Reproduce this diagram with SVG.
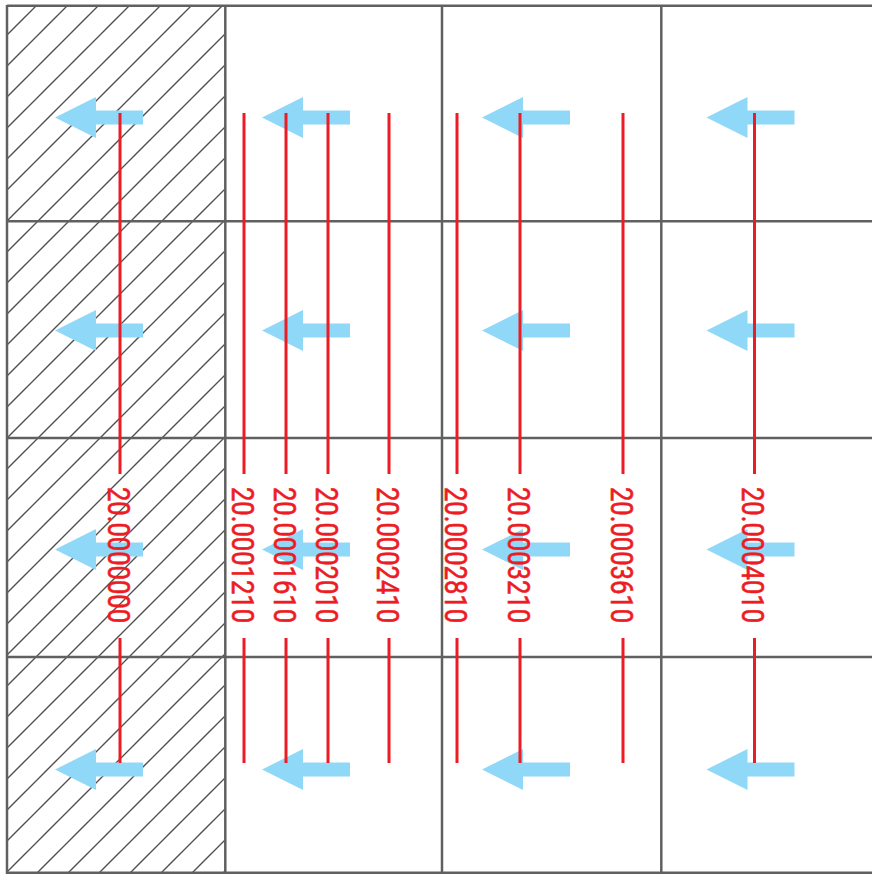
<svg xmlns="http://www.w3.org/2000/svg" width="872" height="874" viewBox="0 0 872 874">
<style>
.grid{stroke:#606060;stroke-width:2.5;fill:none}
.arrow{fill:#8fd8f7}
.red{stroke:#ed1c24;stroke-width:3;fill:none}
.lbl{fill:#ed1c24;stroke:#ed1c24;stroke-width:0.6;font-family:"Liberation Sans Narrow",Roboto,"Liberation Sans",sans-serif;font-size:30.5px}
</style>
<defs>
<pattern id="hatch" patternUnits="userSpaceOnUse" x="11" y="0" width="31" height="31">
<path d="M0,31 L31,0 M-2,2 L2,-2 M29,33 L33,29" stroke="#505050" stroke-width="1.4" fill="none"/>
</pattern>
<polygon id="arr" points="0,0 41,-20.5 41,-7 88,-7 88,7 41,7 41,20.5"/>
</defs>
<rect x="0" y="0" width="872" height="874" fill="#fff"/>
<g id="hatched-column">
<rect x="7" y="6" width="218" height="867" fill="url(#hatch)"/>
</g>
<g id="grid">
<line class="grid" x1="7" y1="5.8" x2="872" y2="5.8"/>
<line class="grid" x1="7" y1="221.3" x2="872" y2="221.3"/>
<line class="grid" x1="7" y1="438" x2="872" y2="438"/>
<line class="grid" x1="7" y1="657" x2="872" y2="657"/>
<line class="grid" x1="7" y1="872.7" x2="872" y2="872.7"/>
<line class="grid" x1="7" y1="5" x2="7" y2="874"/>
<line class="grid" x1="225.3" y1="5" x2="225.3" y2="874"/>
<line class="grid" x1="442" y1="5" x2="442" y2="874"/>
<line class="grid" x1="661.3" y1="5" x2="661.3" y2="874"/>
</g>
<g id="arrows" class="arrow">
<use href="#arr" x="55" y="117.5"/><use href="#arr" x="262" y="117.5"/><use href="#arr" x="482" y="117.5"/><use href="#arr" x="706.5" y="117.5"/>
<use href="#arr" x="55" y="330.5"/><use href="#arr" x="262" y="330.5"/><use href="#arr" x="482" y="330.5"/><use href="#arr" x="706.5" y="330.5"/>
<use href="#arr" x="55" y="549.5"/><use href="#arr" x="262" y="549.5"/><use href="#arr" x="482" y="549.5"/><use href="#arr" x="706.5" y="549.5"/>
<use href="#arr" x="55" y="769.5"/><use href="#arr" x="262" y="769.5"/><use href="#arr" x="482" y="769.5"/><use href="#arr" x="706.5" y="769.5"/>
</g>
<g id="connectors" class="red">
<path d="M120,113 V474 M120,638 V763"/>
<path d="M244,113 V474 M244,638 V763"/>
<path d="M286,113 V474 M286,638 V763"/>
<path d="M328,113 V474 M328,638 V763"/>
<path d="M389,113 V474 M389,638 V763"/>
<path d="M457,113 V474 M457,638 V763"/>
<path d="M520,113 V474 M520,638 V763"/>
<path d="M623,113 V474 M623,638 V763"/>
<path d="M754.5,113 V474 M754.5,638 V763"/>
</g>
<g id="labels" class="lbl">
<text transform="translate(107.5,487) rotate(90)" textLength="136" lengthAdjust="spacingAndGlyphs">20.0000000</text>
<text transform="translate(231.5,487) rotate(90)" textLength="136" lengthAdjust="spacingAndGlyphs">20.0001210</text>
<text transform="translate(273.5,487) rotate(90)" textLength="136" lengthAdjust="spacingAndGlyphs">20.0001610</text>
<text transform="translate(315.5,487) rotate(90)" textLength="136" lengthAdjust="spacingAndGlyphs">20.0002010</text>
<text transform="translate(376.5,487) rotate(90)" textLength="136" lengthAdjust="spacingAndGlyphs">20.0002410</text>
<text transform="translate(444.5,487) rotate(90)" textLength="136" lengthAdjust="spacingAndGlyphs">20.0002810</text>
<text transform="translate(507.5,487) rotate(90)" textLength="136" lengthAdjust="spacingAndGlyphs">20.0003210</text>
<text transform="translate(610.5,487) rotate(90)" textLength="136" lengthAdjust="spacingAndGlyphs">20.0003610</text>
<text transform="translate(742,487) rotate(90)" textLength="136" lengthAdjust="spacingAndGlyphs">20.0004010</text>
</g>
</svg>
